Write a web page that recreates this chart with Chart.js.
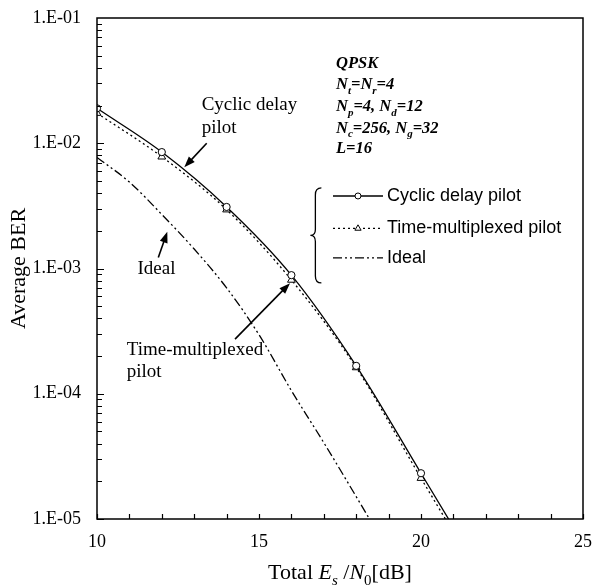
<!DOCTYPE html>
<html>
<head>
<meta charset="utf-8">
<script src="https://cdn.jsdelivr.net/npm/chart.js@4.4.1/dist/chart.umd.min.js"></script>
<style>
  html, body { margin: 0; padding: 0; background: #ffffff; }
  #wrap { width: 597px; height: 586px; }
</style>
</head>
<body>
<div id="wrap"><canvas id="c" width="597" height="586"></canvas></div>
<script>
// ---------------- data ----------------
const markerX   = [10, 12, 14, 16, 18, 20, 22];
const cyclicBER = [1.9e-2, 8.5e-3, 3.1e-3, 8.85e-4, 1.67e-4, 2.32e-5, 3.2e-6];
const tmBER     = [1.74e-2, 7.8e-3, 2.95e-3, 8.1e-4, 1.62e-4, 2.12e-5, 2.9e-6];
const idealX    = [10, 11, 12, 13, 14, 15, 16, 17, 18, 19];
const idealBER  = [7.7e-3, 4.9e-3, 2.7e-3, 1.43e-3, 7.0e-4, 2.96e-4, 1.06e-4, 4.07e-5, 1.51e-5, 5.5e-6];
const seriesNames = ['Cyclic delay pilot', 'Time-multiplexed pilot', 'Ideal'];
const yTickValues = [1e-1, 1e-2, 1e-3, 1e-4, 1e-5];
const xTickValues = [10, 15, 20, 25];
const xMin = 10, xMax = 25, yMin = 1e-5, yMax = 1e-1;

const SERIF = '"Liberation Serif", "Times New Roman", serif';
const SANS = '"Liberation Sans", Arial, sans-serif';

const fmtE = v => {
  const e = Math.round(Math.log10(v));
  return '1.E' + (e < 0 ? '-' : '+') + String(Math.abs(e)).padStart(2, '0');
};

const toPts = (xs, ys) => xs.map((x, i) => ({ x: x, y: ys[i] }));
const lastHidden = (n, r) => Array.from({ length: n }, (_, i) => (i === n - 1 ? 0 : r));

const styles = [
  { borderDash: [], borderWidth: 1.3, pointStyle: 'circle', radius: 3.6 },
  { borderDash: [2, 3], borderWidth: 1.3, pointStyle: 'triangle', radius: 4.5 },
  { borderDash: [9, 3, 2, 3, 2, 3], borderWidth: 1.3, pointStyle: false, radius: 0 }
];

// annotation anchors in data space: [x (dB), log10(BER)]
const notes = {
  cyclic: { lines: ['Cyclic delay', 'pilot'], at: [[13.23, -1.694], [13.23, -1.878]], tail: [13.386, -2.0], head: [12.694, -2.192] },
  ideal:  { lines: ['Ideal'], at: [[11.25, -3.003]], tail: [11.892, -2.913], head: [12.17, -2.706] },
  tm:     { lines: ['Time-multiplexed', 'pilot'], at: [[10.917, -3.650], [10.917, -3.825]], tail: [14.26, -3.564], head: [15.957, -3.117] }
};
const infoAt = [17.377, [-1.349, -1.519, -1.694, -1.867, -2.03]];
const legendAt = { braceX: 16.74, braceTop: -2.357, braceBottom: -3.115, rows: [-2.421, -2.680, -2.915], sample: [17.284, 18.827], text: 18.95 };

// ---------------- drawing helpers ----------------
function drawRich(ctx, x, y, parts, size, subSize, style, align) {
  const fontOf = p => (p.it ? 'italic ' : '') + (style || '') + ' ' + (p.sub ? subSize : size) + 'px ' + SERIF;
  let total = 0;
  parts.forEach(p => { ctx.font = fontOf(p); total += ctx.measureText(p.t).width; });
  let cx = align === 'center' ? x - total / 2 : x;
  ctx.textAlign = 'left';
  ctx.textBaseline = 'alphabetic';
  parts.forEach(p => {
    ctx.font = fontOf(p);
    ctx.fillText(p.t, cx, y + (p.sub ? size * 0.28 : 0));
    cx += ctx.measureText(p.t).width;
  });
}

function arrow(ctx, x1, y1, x2, y2) {
  const a = Math.atan2(y2 - y1, x2 - x1);
  const L = 11, W = 4;
  ctx.beginPath();
  ctx.moveTo(x1, y1);
  ctx.lineTo(x2 - L * 0.8 * Math.cos(a), y2 - L * 0.8 * Math.sin(a));
  ctx.lineWidth = 1.6;
  ctx.stroke();
  ctx.beginPath();
  ctx.moveTo(x2, y2);
  ctx.lineTo(x2 - L * Math.cos(a) + W * Math.sin(a), y2 - L * Math.sin(a) - W * Math.cos(a));
  ctx.lineTo(x2 - L * Math.cos(a) - W * Math.sin(a), y2 - L * Math.sin(a) + W * Math.cos(a));
  ctx.closePath();
  ctx.fill();
}

function marker(ctx, style, x, y, r) {
  ctx.save();
  ctx.setLineDash([]);
  ctx.lineWidth = 1;
  ctx.fillStyle = '#fff';
  ctx.beginPath();
  if (style === 'circle') {
    ctx.arc(x, y, r, 0, Math.PI * 2);
  } else if (style === 'triangle') {
    ctx.moveTo(x, y - r);
    ctx.lineTo(x + r * 0.87, y + r * 0.5);
    ctx.lineTo(x - r * 0.87, y + r * 0.5);
    ctx.closePath();
  }
  ctx.fill();
  ctx.stroke();
  ctx.restore();
}

const decor = {
  id: 'decor',
  afterDraw(chart) {
    const ctx = chart.ctx;
    const xs = chart.scales.x, ys = chart.scales.y;
    const ca = chart.chartArea;
    const P = (x, l) => [xs.getPixelForValue(x), ys.getPixelForValue(Math.pow(10, l))];
    ctx.save();
    ctx.strokeStyle = '#000';
    ctx.fillStyle = '#000';
    ctx.setLineDash([]);

    // frame
    ctx.lineWidth = 1.5;
    ctx.strokeRect(ca.left, ca.top, ca.right - ca.left, ca.bottom - ca.top);

    // inward ticks
    ctx.lineWidth = 1.2;
    ctx.beginPath();
    for (let v = xMin; v <= xMax; v++) {
      const px = Math.round(xs.getPixelForValue(v)) + 0.5;
      ctx.moveTo(px, ca.bottom);
      ctx.lineTo(px, ca.bottom - 5);
    }
    for (let d = Math.log10(yMin); d < Math.log10(yMax); d++) {
      for (let k = 1; k <= 9; k++) {
        const py = Math.round(ys.getPixelForValue(k * Math.pow(10, d))) + 0.5;
        ctx.moveTo(ca.left, py);
        ctx.lineTo(ca.left + (k === 1 ? 7 : 5), py);
      }
    }
    ctx.stroke();

    // axis titles
    ctx.save();
    ctx.translate(19, (ca.top + ca.bottom) / 2);
    ctx.rotate(-Math.PI / 2);
    ctx.font = '22px ' + SERIF;
    ctx.textAlign = 'center';
    ctx.textBaseline = 'middle';
    ctx.fillText('Average BER', 0, 0);
    ctx.restore();

    drawRich(ctx, (ca.left + ca.right) / 2, 579, [
      { t: 'Total ' }, { t: 'E', it: true }, { t: 's', it: true, sub: true }, { t: ' /' },
      { t: 'N', it: true }, { t: '0', sub: true }, { t: '[dB]' }
    ], 22, 15, '', 'center');

    // info block
    const infoLines = [
      [{ t: 'QPSK', it: true }],
      [{ t: 'N', it: true }, { t: 't', it: true, sub: true }, { t: '=', it: true }, { t: 'N', it: true }, { t: 'r', it: true, sub: true }, { t: '=4', it: true }],
      [{ t: 'N', it: true }, { t: 'p', it: true, sub: true }, { t: '=4, ', it: true }, { t: 'N', it: true }, { t: 'd', it: true, sub: true }, { t: '=12', it: true }],
      [{ t: 'N', it: true }, { t: 'c', it: true, sub: true }, { t: '=256, ', it: true }, { t: 'N', it: true }, { t: 'g', it: true, sub: true }, { t: '=32', it: true }],
      [{ t: 'L', it: true }, { t: '=16', it: true }]
    ];
    infoLines.forEach((parts, i) => {
      const [px, py] = P(infoAt[0], infoAt[1][i]);
      drawRich(ctx, px, py + 6, parts, 16.5, 11, 'bold', 'left');
    });

    // legend with brace
    const [bx, bt] = P(legendAt.braceX, legendAt.braceTop);
    const [, bb] = P(legendAt.braceX, legendAt.braceBottom);
    const bm = (bt + bb) / 2;
    ctx.lineWidth = 1.3;
    ctx.beginPath();
    ctx.moveTo(bx + 6, bt);
    ctx.quadraticCurveTo(bx, bt, bx, bt + 7);
    ctx.lineTo(bx, bm - 6);
    ctx.quadraticCurveTo(bx, bm, bx - 5, bm);
    ctx.quadraticCurveTo(bx, bm, bx, bm + 6);
    ctx.lineTo(bx, bb - 7);
    ctx.quadraticCurveTo(bx, bb, bx + 6, bb);
    ctx.stroke();

    legendAt.rows.forEach((l, i) => {
      const [x1, py] = P(legendAt.sample[0], l);
      const [x2] = P(legendAt.sample[1], l);
      const st = styles[i];
      ctx.save();
      ctx.lineWidth = 1.3;
      ctx.setLineDash(i === 0 ? [] : (i === 1 ? [2, 3] : [9, 3, 2, 3, 2, 3]));
      ctx.beginPath();
      ctx.moveTo(x1, py);
      ctx.lineTo(x2, py);
      ctx.stroke();
      ctx.restore();
      if (st.pointStyle) marker(ctx, st.pointStyle, (x1 + x2) / 2, py, i === 0 ? 3 : 3.6);
      const [tx] = P(legendAt.text, l);
      ctx.font = '18px ' + SANS;
      ctx.textAlign = 'left';
      ctx.textBaseline = 'middle';
      ctx.fillText(seriesNames[i], tx, py);
    });

    // annotations
    ctx.font = '19px ' + SERIF;
    Object.values(notes).forEach(n => {
      n.lines.forEach((t, i) => {
        const [px, py] = P(n.at[i][0], n.at[i][1]);
        ctx.textAlign = 'left';
        ctx.textBaseline = 'middle';
        ctx.fillText(t, px, py);
      });
      const [tx, ty] = P(n.tail[0], n.tail[1]);
      const [hx, hy] = P(n.head[0], n.head[1]);
      arrow(ctx, tx, ty, hx, hy);
    });
    ctx.restore();
  }
};

new Chart(document.getElementById('c'), {
  type: 'line',
  data: {
    datasets: [
      {
        label: seriesNames[0],
        data: toPts(markerX, cyclicBER),
        borderColor: '#000', backgroundColor: '#fff',
        borderWidth: styles[0].borderWidth, borderDash: styles[0].borderDash,
        pointStyle: styles[0].pointStyle, pointRadius: lastHidden(markerX.length, styles[0].radius),
        pointBorderWidth: 1, pointBackgroundColor: '#fff', pointBorderColor: '#000',
        cubicInterpolationMode: 'monotone', order: 1
      },
      {
        label: seriesNames[1],
        data: toPts(markerX, tmBER),
        borderColor: '#000', backgroundColor: '#fff',
        borderWidth: styles[1].borderWidth, borderDash: styles[1].borderDash,
        pointStyle: styles[1].pointStyle, pointRadius: lastHidden(markerX.length, styles[1].radius),
        pointBorderWidth: 1, pointBackgroundColor: '#fff', pointBorderColor: '#000',
        cubicInterpolationMode: 'monotone', order: 2
      },
      {
        label: seriesNames[2],
        data: toPts(idealX, idealBER),
        borderColor: '#000', backgroundColor: '#fff',
        borderWidth: styles[2].borderWidth, borderDash: styles[2].borderDash,
        pointRadius: 0,
        cubicInterpolationMode: 'monotone', order: 3
      }
    ]
  },
  options: {
    responsive: false,
    animation: false,
    devicePixelRatio: 1,
    layout: { padding: { top: 18, right: 14, left: 0, bottom: 0 } },
    plugins: { legend: { display: false }, tooltip: { enabled: false } },
    scales: {
      x: {
        type: 'linear', min: xMin, max: xMax,
        afterBuildTicks: s => { s.ticks = xTickValues.map(v => ({ value: v })); },
        afterFit: s => { s.height = 67; s.paddingLeft = 0; s.paddingRight = 0; },
        grid: { display: false, drawTicks: false },
        border: { display: false },
        ticks: { color: '#000', font: { family: SERIF, size: 18 }, padding: 12, maxRotation: 0 }
      },
      y: {
        type: 'logarithmic', min: yMin, max: yMax,
        afterBuildTicks: s => { s.ticks = yTickValues.map(v => ({ value: v, major: true })); },
        afterFit: s => { s.width = 97; s.paddingTop = 0; s.paddingBottom = 0; },
        grid: { display: false, drawTicks: false },
        border: { display: false },
        ticks: { color: '#000', font: { family: SERIF, size: 18 }, padding: 16, callback: v => fmtE(v) }
      }
    }
  },
  plugins: [decor]
});
</script>
</body>
</html>
